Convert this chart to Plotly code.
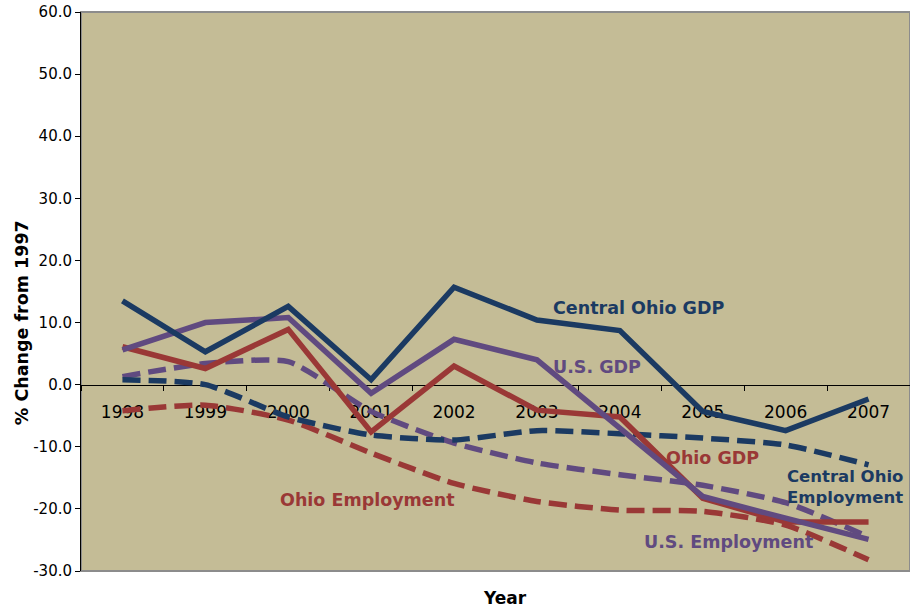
import plotly.graph_objects as go

years = ["1998", "1999", "2000", "2001", "2002", "2003", "2004", "2005", "2006", "2007"]

central_ohio_gdp = [13.5, 5.3, 12.6, 0.8, 15.7, 10.4, 8.7, -4.3, -7.4, -2.3]
us_gdp = [5.6, 10.0, 10.8, -1.4, 7.3, 4.0, -7.0, -18.0, -21.5, -24.9]
ohio_gdp = [6.1, 2.6, 8.9, -7.6, 3.0, -4.1, -5.2, -18.3, -22.1, -22.1]
central_ohio_emp = [0.8, 0.0, -5.2, -8.1, -8.9, -7.4, -7.9, -8.6, -9.7, -12.9]
us_emp = [1.3, 3.4, 3.7, -4.3, -9.4, -12.6, -14.5, -16.2, -19.0, -24.5]
ohio_emp = [-4.2, -3.3, -5.7, -11.0, -15.9, -18.8, -20.2, -20.4, -22.6, -28.2]

y_ticks = [60, 50, 40, 30, 20, 10, 0, -10, -20, -30]
y_tick_text = ["60.0", "50.0", "40.0", "30.0", "20.0", "10.0", "0.0", "-10.0", "-20.0", "-30.0"]

NAVY = "#1B3A62"
PURPLE = "#604A80"
RED = "#9A3836"
BG = "#C4BC96"
FONT = "DejaVu Sans"

fig = go.Figure()

dash = "18px,8px"
for vals, col in [(ohio_emp, RED), (us_emp, PURPLE), (central_ohio_emp, NAVY)]:
    fig.add_trace(go.Scatter(x=years, y=vals, mode="lines",
                             line=dict(color=col, width=5.5, dash=dash, shape="spline", smoothing=0.6),
                             showlegend=False, hoverinfo="skip"))
for vals, col in [(ohio_gdp, RED), (us_gdp, PURPLE), (central_ohio_gdp, NAVY)]:
    fig.add_trace(go.Scatter(x=years, y=vals, mode="lines",
                             line=dict(color=col, width=5.5),
                             showlegend=False, hoverinfo="skip"))

labels = [
    ("Central Ohio GDP", 6.22, 12.3, NAVY),
    ("U.S. GDP", 5.72, 2.9, PURPLE),
    ("Ohio GDP", 7.12, -11.85, RED),
    ("Ohio Employment", 2.96, -18.6, RED),
    ("U.S. Employment", 7.31, -25.3, PURPLE),
]
for text, x, y, col in labels:
    fig.add_annotation(x=x, y=y, xref="x", yref="y", text="<b>" + text + "</b>", showarrow=False,
                       font=dict(family=FONT, size=17.5, color=col), xanchor="center", yanchor="middle")
fig.add_annotation(x=7.99, y=-16.55, xref="x", yref="y", text="<b>Central Ohio<br>Employment</b>",
                   showarrow=False, align="left", xanchor="left", yanchor="middle",
                   font=dict(family=FONT, size=16.5, color=NAVY))

fig.add_annotation(x=-0.0712, y=0.445, xref="paper", yref="paper", text="<b>% Change from 1997</b>",
                   textangle=-90, showarrow=False, xanchor="center", yanchor="middle",
                   font=dict(family=FONT, size=17.5, color="black"))
fig.add_annotation(x=0.511, y=-0.048, xref="paper", yref="paper", text="<b>Year</b>",
                   showarrow=False, xanchor="center", yanchor="middle",
                   font=dict(family=FONT, size=17, color="black"))

fig.add_shape(type="rect", xref="paper", yref="paper", x0=0, x1=1, y0=0, y1=1,
              line=dict(color="#8C8C8C", width=2), layer="below")

fig.update_layout(
    width=910, height=609,
    margin=dict(l=81, r=0, t=12, b=38),
    paper_bgcolor="white", plot_bgcolor=BG,
    font=dict(family=FONT, color="black"),
    xaxis=dict(type="category", range=[-0.5, 9.5], showgrid=False, zeroline=False,
               anchor="free", position=1/3, showline=True, linecolor="black", linewidth=1,
               ticks="outside", ticklen=5, tickcolor="black", tickson="boundaries",
               tickfont=dict(size=17, family=FONT), ticklabelstandoff=12, layer="below traces"),
    yaxis=dict(range=[-30, 60], tickvals=y_ticks, ticktext=y_tick_text, showgrid=False, zeroline=False,
               showline=True, linecolor="black", linewidth=1, ticks="outside", ticklen=5,
               tickcolor="black", tickfont=dict(size=15, family=FONT)),
)

fig.write_html("out.html", config={"displayModeBar": False},
               post_script="document.body.style.margin='0';document.documentElement.style.overflow='hidden';")
